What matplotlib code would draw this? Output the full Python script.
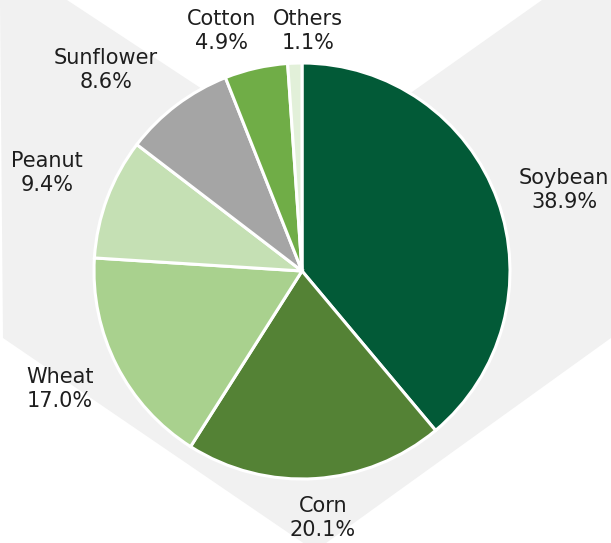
import matplotlib
matplotlib.use("Agg")
import matplotlib.pyplot as plt
from matplotlib.patches import Polygon

categories = ["Soybean", "Corn", "Wheat", "Peanut", "Sunflower", "Cotton", "Others"]
shares = [38.9, 20.1, 17.0, 9.4, 8.6, 4.9, 1.1]
colors = ["#025a37", "#548235", "#a9d18e", "#c5e0b4", "#a5a5a5", "#70ad47", "#e2f0d9"]

W, H = 611, 543
CX, CY, R = 302, 271, 208  # pie centre / radius in pixels

# label centres in pixels (layout, not data)
label_px = {
    "Soybean": (564, 190),
    "Corn": (323, 518),
    "Wheat": (60, 389),
    "Peanut": (47, 173),
    "Sunflower": (106, 70),
    "Cotton": (222, 31),
    "Others": (308, 31),
}

bg_poly_px = [(0, 0), (67, 0), (313, 162), (542, 0), (611, 0), (611, 338),
              (315, 551), (3, 338)]

plt.rcParams['font.family'] = ['DejaVu Sans']
fig = plt.figure(figsize=(W / 100, H / 100), dpi=100)
ax = fig.add_axes([0, 0, 1, 1])

wedges, _ = ax.pie(shares, colors=colors, startangle=90, counterclock=False,
                   radius=1.0, wedgeprops=dict(edgecolor="white", linewidth=2.2))
for w in wedges:
    w.set_zorder(3)

ax.set_xlim(-CX / R, (W - CX) / R)
ax.set_ylim(-(H - CY) / R, CY / R)
ax.set_aspect('equal', adjustable='box')
ax.axis('off')

bg = Polygon([(x / W, 1 - y / H) for x, y in bg_poly_px], closed=True,
             transform=fig.transFigure, facecolor="#f1f1f1", edgecolor="none", zorder=0)
ax.add_patch(bg)

for name, val in zip(categories, shares):
    px, py = label_px[name]
    ax.text((px - CX) / R, (CY - py) / R, f"{name}\n{val:.1f}%", ha="center", va="center",
            fontsize=15, color="#1e1e1e", linespacing=1.2, zorder=5)

fig.savefig("out.png", dpi=100)
